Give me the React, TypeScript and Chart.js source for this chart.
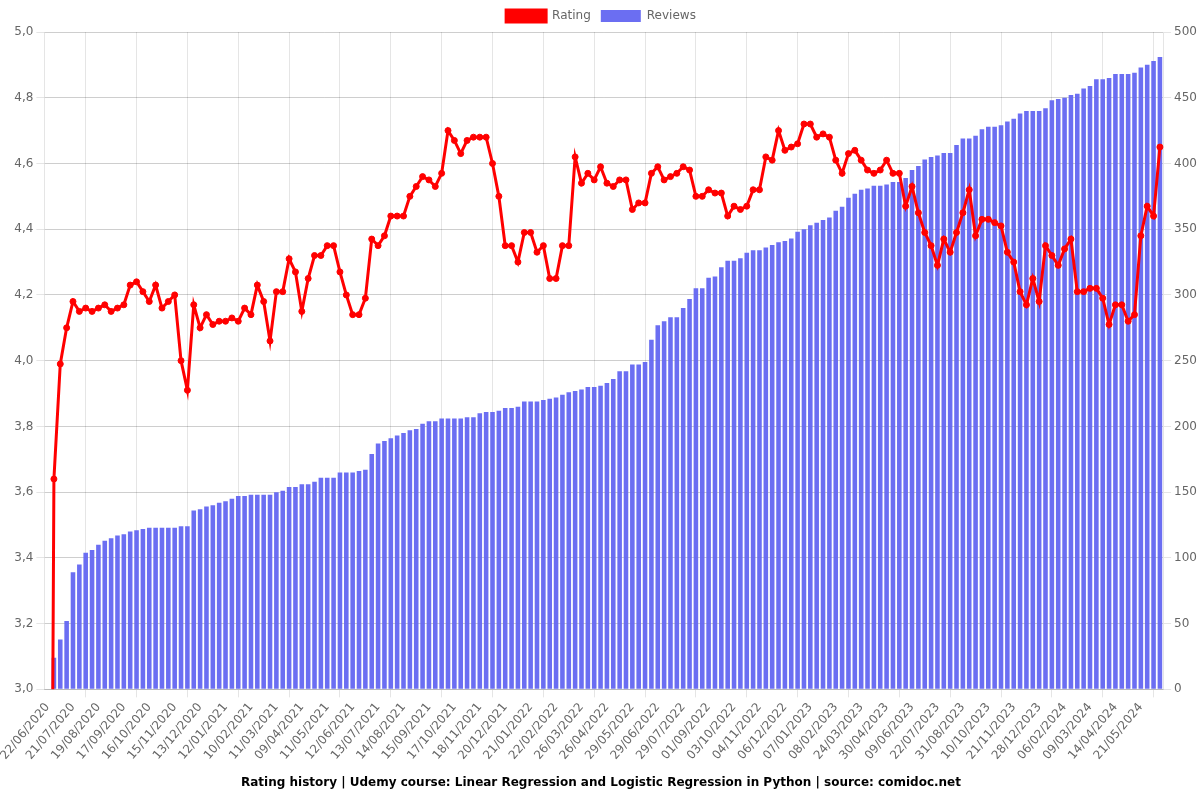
import React, { useEffect, useRef } from "react";
import { Chart, registerables } from "chart.js";

Chart.register(...registerables);

const dates: string[] = [
  "22/06/2020", "29/06/2020", "07/07/2020", "14/07/2020", "21/07/2020", "28/07/2020", "04/08/2020", "12/08/2020",
  "19/08/2020", "26/08/2020", "02/09/2020", "10/09/2020", "17/09/2020", "24/09/2020", "01/10/2020", "09/10/2020",
  "16/10/2020", "23/10/2020", "31/10/2020", "07/11/2020", "15/11/2020", "22/11/2020", "29/11/2020", "06/12/2020",
  "13/12/2020", "21/12/2020", "28/12/2020", "04/01/2021", "12/01/2021", "19/01/2021", "26/01/2021", "03/02/2021",
  "10/02/2021", "17/02/2021", "24/02/2021", "04/03/2021", "11/03/2021", "18/03/2021", "25/03/2021", "02/04/2021",
  "09/04/2021", "17/04/2021", "25/04/2021", "03/05/2021", "11/05/2021", "19/05/2021", "27/05/2021", "04/06/2021",
  "12/06/2021", "20/06/2021", "28/06/2021", "05/07/2021", "13/07/2021", "21/07/2021", "29/07/2021", "06/08/2021",
  "14/08/2021", "22/08/2021", "30/08/2021", "07/09/2021", "15/09/2021", "23/09/2021", "01/10/2021", "09/10/2021",
  "17/10/2021", "25/10/2021", "02/11/2021", "10/11/2021", "18/11/2021", "26/11/2021", "04/12/2021", "12/12/2021",
  "20/12/2021", "28/12/2021", "05/01/2022", "13/01/2022", "21/01/2022", "29/01/2022", "06/02/2022", "14/02/2022",
  "22/02/2022", "02/03/2022", "10/03/2022", "18/03/2022", "26/03/2022", "03/04/2022", "11/04/2022", "18/04/2022",
  "26/04/2022", "04/05/2022", "12/05/2022", "20/05/2022", "29/05/2022", "06/06/2022", "14/06/2022", "21/06/2022",
  "29/06/2022", "06/07/2022", "14/07/2022", "21/07/2022", "29/07/2022", "06/08/2022", "15/08/2022", "24/08/2022",
  "01/09/2022", "09/09/2022", "17/09/2022", "25/09/2022", "03/10/2022", "11/10/2022", "19/10/2022", "27/10/2022",
  "04/11/2022", "12/11/2022", "20/11/2022", "28/11/2022", "06/12/2022", "14/12/2022", "22/12/2022", "30/12/2022",
  "07/01/2023", "15/01/2023", "23/01/2023", "31/01/2023", "08/02/2023", "19/02/2023", "02/03/2023", "13/03/2023",
  "24/03/2023", "02/04/2023", "11/04/2023", "21/04/2023", "30/04/2023", "10/05/2023", "20/05/2023", "30/05/2023",
  "09/06/2023", "20/06/2023", "01/07/2023", "11/07/2023", "22/07/2023", "01/08/2023", "11/08/2023", "21/08/2023",
  "31/08/2023", "10/09/2023", "20/09/2023", "30/09/2023", "10/10/2023", "20/10/2023", "31/10/2023", "10/11/2023",
  "21/11/2023", "30/11/2023", "09/12/2023", "18/12/2023", "28/12/2023", "07/01/2024", "17/01/2024", "27/01/2024",
  "06/02/2024", "14/02/2024", "22/02/2024", "01/03/2024", "09/03/2024", "18/03/2024", "27/03/2024", "05/04/2024",
  "14/04/2024", "23/04/2024", "02/05/2024", "11/05/2024", "21/05/2024", "30/05/2024", "08/06/2024", "17/06/2024",
];

const ratings: number[] = [
  0, 3.64, 3.99, 4.1, 4.18, 4.15, 4.16, 4.15, 4.16, 4.17, 4.15, 4.16, 4.17, 4.23, 4.24, 4.21,
  4.18, 4.23, 4.16, 4.18, 4.2, 4.0, 3.91, 4.17, 4.1, 4.14, 4.11, 4.12, 4.12, 4.13, 4.12, 4.16,
  4.14, 4.23, 4.18, 4.06, 4.21, 4.21, 4.31, 4.27, 4.15, 4.25, 4.32, 4.32, 4.35, 4.35, 4.27, 4.2,
  4.14, 4.14, 4.19, 4.37, 4.35, 4.38, 4.44, 4.44, 4.44, 4.5, 4.53, 4.56, 4.55, 4.53, 4.57, 4.7,
  4.67, 4.63, 4.67, 4.68, 4.68, 4.68, 4.6, 4.5, 4.35, 4.35, 4.3, 4.39, 4.39, 4.33, 4.35, 4.25,
  4.25, 4.35, 4.35, 4.62, 4.54, 4.57, 4.55, 4.59, 4.54, 4.53, 4.55, 4.55, 4.46, 4.48, 4.48, 4.57,
  4.59, 4.55, 4.56, 4.57, 4.59, 4.58, 4.5, 4.5, 4.52, 4.51, 4.51, 4.44, 4.47, 4.46, 4.47, 4.52,
  4.52, 4.62, 4.61, 4.7, 4.64, 4.65, 4.66, 4.72, 4.72, 4.68, 4.69, 4.68, 4.61, 4.57, 4.63, 4.64,
  4.61, 4.58, 4.57, 4.58, 4.61, 4.57, 4.57, 4.47, 4.53, 4.45, 4.39, 4.35, 4.29, 4.37, 4.33, 4.39,
  4.45, 4.52, 4.38, 4.43, 4.43, 4.42, 4.41, 4.33, 4.3, 4.21, 4.17, 4.25, 4.18, 4.35, 4.32, 4.29,
  4.34, 4.37, 4.21, 4.21, 4.22, 4.22, 4.19, 4.11, 4.17, 4.17, 4.12, 4.14, 4.38, 4.47, 4.44, 4.65,
];

const reviews: number[] = [
  0, 24, 38, 52, 89, 95, 104, 106, 110, 113, 115, 117, 118, 120, 121, 122,
  123, 123, 123, 123, 123, 124, 124, 136, 137, 139, 140, 142, 143, 145, 147, 147,
  148, 148, 148, 148, 150, 151, 154, 154, 156, 156, 158, 161, 161, 161, 165, 165,
  165, 166, 167, 179, 187, 189, 191, 193, 195, 197, 198, 202, 204, 204, 206, 206,
  206, 206, 207, 207, 210, 211, 211, 212, 214, 214, 215, 219, 219, 219, 220, 221,
  222, 224, 226, 227, 228, 230, 230, 231, 233, 236, 242, 242, 247, 247, 249, 266,
  277, 280, 283, 283, 290, 297, 305, 305, 313, 314, 321, 326, 326, 328, 332, 334,
  334, 336, 338, 340, 341, 343, 348, 350, 353, 355, 357, 359, 364, 367, 374, 377,
  380, 381, 383, 383, 384, 386, 386, 389, 395, 398, 403, 405, 406, 408, 408, 414,
  419, 419, 421, 426, 428, 428, 429, 432, 434, 438, 440, 440, 440, 442, 448, 449,
  450, 452, 453, 457, 459, 464, 464, 465, 468, 468, 468, 469, 473, 475, 478, 481,
];

const titleText =
  "Rating history | Udemy course: Linear Regression and Logistic Regression in Python | source: comidoc.net";

export default function App() {
  const ref = useRef<HTMLCanvasElement | null>(null);

  useEffect(() => {
    if (!ref.current) return;
    Chart.defaults.font.family = "'DejaVu Sans', sans-serif";
    Chart.defaults.font.size = 12;
    const chart = new Chart(ref.current, {
      type: "bar",
      data: {
        labels: dates,
        datasets: [
          {
            type: "line",
            label: "Rating",
            data: ratings,
            yAxisID: "y",
            borderColor: "rgb(255,0,0)",
            backgroundColor: "rgb(255,0,0)",
            borderWidth: 3,
            pointRadius: 3,
            pointBorderWidth: 1,
            tension: 0,
          } as any,
          {
            type: "bar",
            label: "Reviews",
            data: reviews,
            yAxisID: "y1",
            backgroundColor: "rgba(99,102,241,0.95)",
            borderColor: "rgba(99,102,241,0.95)",
            borderWidth: 0,
          },
        ],
      },
      options: {
        animation: false,
        responsive: false,
        maintainAspectRatio: false,
        layout: { padding: { left: 2 } },
        plugins: {
          legend: {
            position: "top",
            labels: { color: "#666", font: { size: 12 } },
          },
          title: {
            display: true,
            position: "bottom",
            text: titleText,
            color: "#000",
            font: { size: 12, weight: "bold" },
          },
          tooltip: { enabled: false },
        },
        scales: {
          x: {
            ticks: {
              autoSkip: true,
              maxTicksLimit: 44,
              color: "#666",
            },
          },
          y: {
            position: "left",
            min: 3,
            max: 5,
            ticks: {
              stepSize: 0.2,
              color: "#666",
              callback: (v: any) => Number(v).toFixed(1).replace(".", ","),
            },
          },
          y1: {
            position: "right",
            min: 0,
            max: 500,
            ticks: { stepSize: 50, color: "#666" },
          },
        },
      },
    });
    return () => chart.destroy();
  }, []);

  return (
    <div style={{ position: "absolute", left: 0, top: 0, width: 1200, height: 800 }}>
      <canvas ref={ref} width={1200} height={800} style={{ display: "block" }} />
    </div>
  );
}
